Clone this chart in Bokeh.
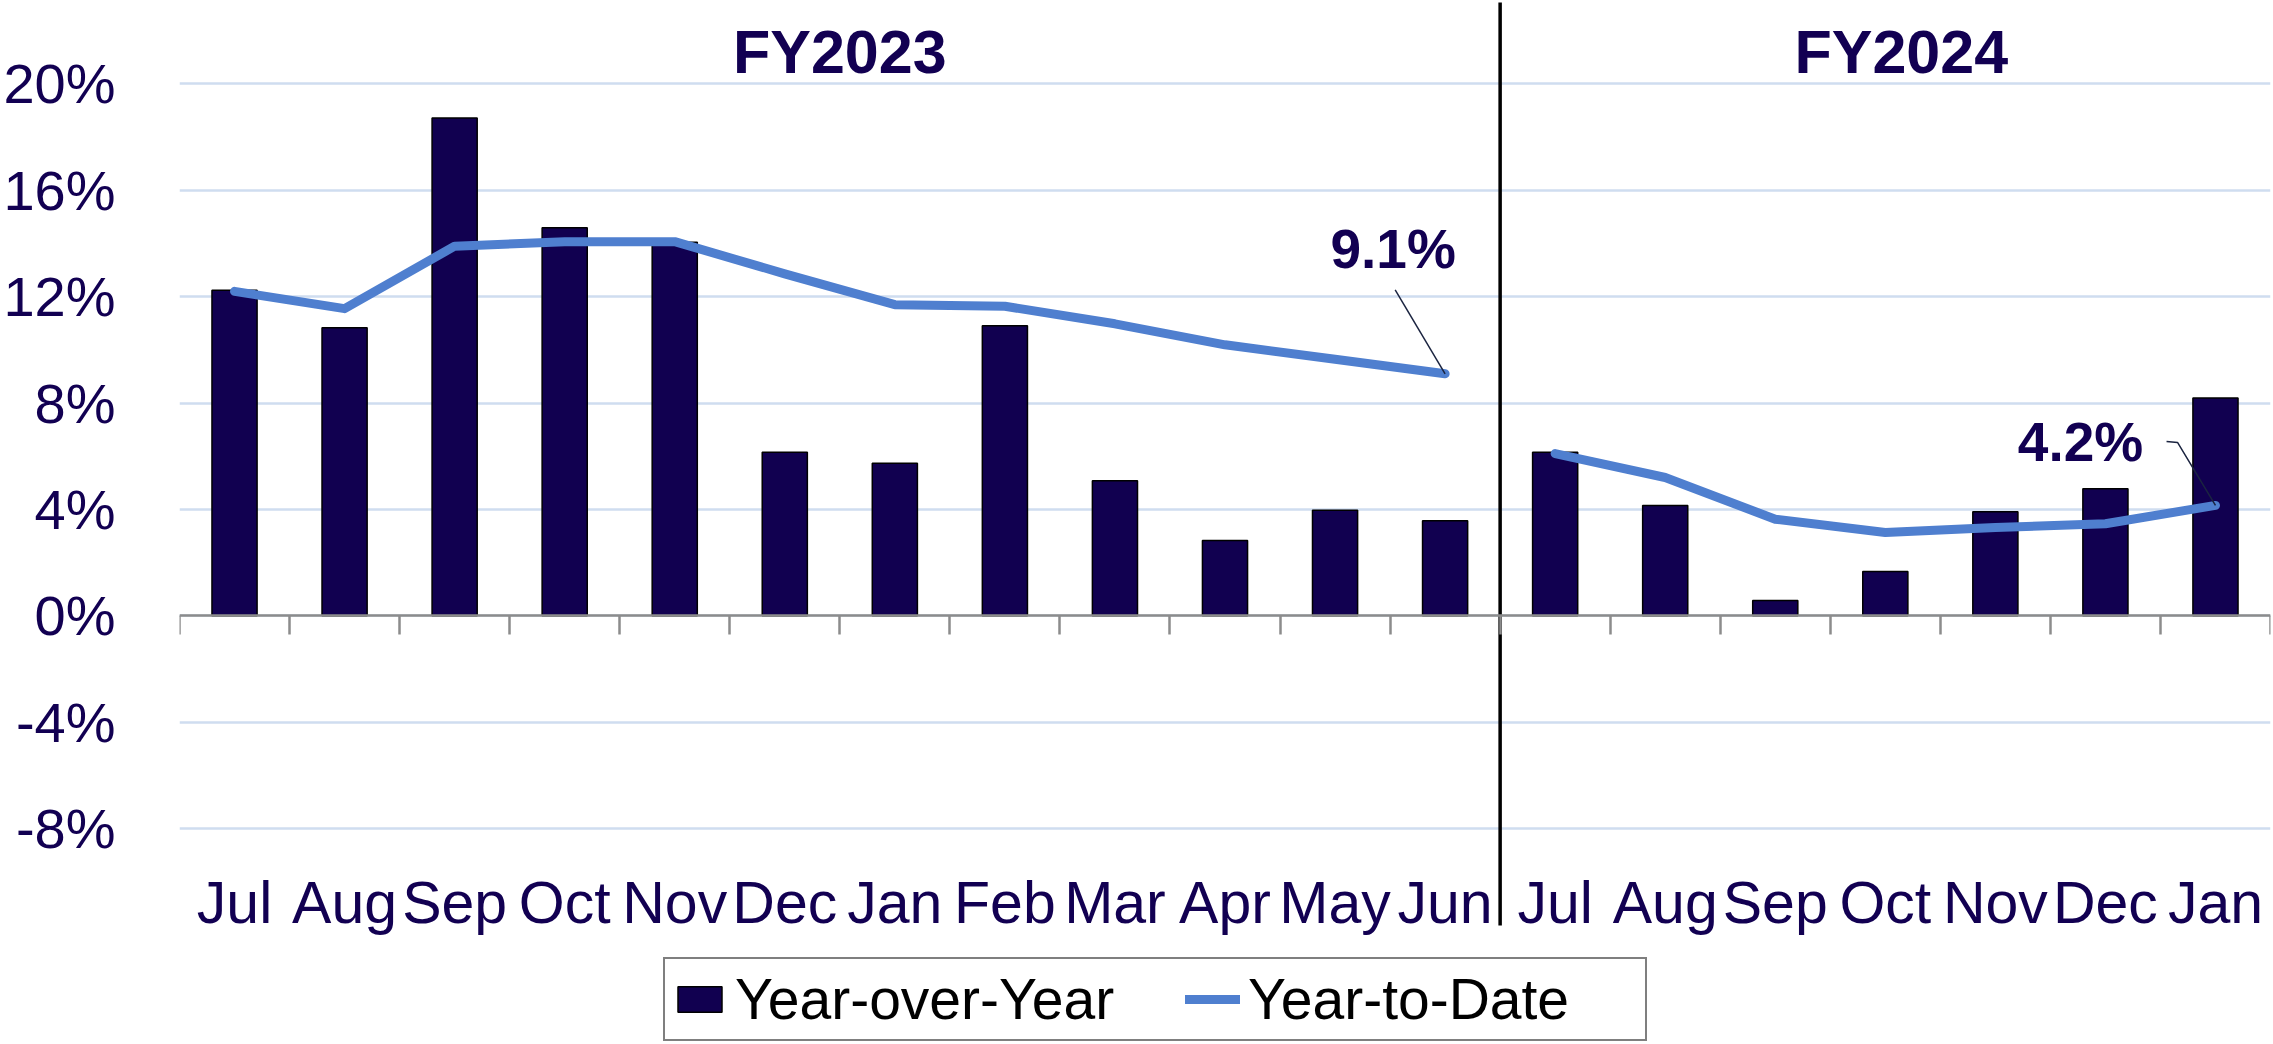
from bokeh.plotting import figure
from bokeh.models import (Range1d, LinearAxis, FixedTicker, PrintfTickFormatter,
                          Legend, LegendItem, ColumnDataSource)
from bokeh.core.properties import value
from bokeh.embed import file_html
from bokeh.resources import INLINE

# ---------------- data ----------------
fy_labels = ["FY2023", "FY2024"]
months_fy23 = ["Jul", "Aug", "Sep", "Oct", "Nov", "Dec", "Jan", "Feb", "Mar", "Apr", "May", "Jun"]
months_fy24 = ["Jul", "Aug", "Sep", "Oct", "Nov", "Dec", "Jan"]
yoy_fy23 = [12.24, 10.83, 18.72, 14.59, 14.05, 6.15, 5.74, 10.91, 5.08, 2.83, 3.97, 3.57]
yoy_fy24 = [6.15, 4.15, 0.57, 1.66, 3.91, 4.78, 8.19]
ytd_fy23 = [12.20, 11.55, 13.90, 14.07, 14.07, 12.86, 11.70, 11.64, 10.98, 10.19, 9.65, 9.10]
ytd_fy24 = [6.10, 5.20, 3.63, 3.13, 3.32, 3.46, 4.15]
y_ticks = [-8, -4, 0, 4, 8, 12, 16, 20]

# ---------------- style ----------------
NAVY = "#120052"
BAR = "#110050"
LINE = "#4F7FCF"
GRID = "#CFDDF0"
FONT = "Liberation Sans"

W, H = 2271, 1042
LEFT, RIGHT = 176, 1
Y_START, Y_END = -16.05, 23.14
px_per_y = H / (Y_END - Y_START)

n23, n24 = len(months_fy23), len(months_fy24)
n = n23 + n24
px_per_x = (W - LEFT - RIGHT) / n

x23 = [i + 0.5 for i in range(n23)]
x24 = [n23 + i + 0.5 for i in range(n24)]
months = months_fy23 + months_fy24
xc = x23 + x24

p = figure(width=W, height=H, output_backend="svg", toolbar_location=None,
           x_range=Range1d(0, n), y_range=Range1d(Y_START, Y_END),
           min_border_left=LEFT, min_border_right=RIGHT, min_border_top=0, min_border_bottom=0,
           x_axis_location=None, y_axis_location="left")
p.outline_line_color = None
p.background_fill_color = "white"
p.border_fill_color = "white"

# y axis
p.yaxis.ticker = FixedTicker(ticks=y_ticks)
p.yaxis.formatter = PrintfTickFormatter(format="%d%%")
p.yaxis.axis_line_color = None
p.yaxis.major_tick_line_color = None
p.yaxis.minor_tick_line_color = None
p.yaxis.major_label_standoff = 58
p.yaxis.major_label_text_font = FONT
p.yaxis.major_label_text_font_size = "56px"
p.yaxis.major_label_text_color = NAVY
p.ygrid.ticker = FixedTicker(ticks=y_ticks)
p.ygrid.grid_line_color = GRID
p.ygrid.grid_line_width = 2.5
p.xgrid.grid_line_color = None

# bars
src = ColumnDataSource(dict(x=xc, yoy=yoy_fy23 + yoy_fy24))
bars = p.vbar(x="x", top="yoy", bottom=0, width=0.41, source=src,
              fill_color=BAR, line_color="black", line_width=1.5)

# baseline axis at 0 with ticks at category boundaries
base_axis = LinearAxis(fixed_location=0,
                       ticker=FixedTicker(ticks=list(range(n + 1))),
                       major_label_overrides={i: "" for i in range(n + 1)})
base_axis.axis_line_color = "#8C8C8C"
base_axis.axis_line_width = 2.5
base_axis.major_tick_line_color = "#8C8C8C"
base_axis.major_tick_line_width = 2.5
base_axis.major_tick_in = 0
base_axis.major_tick_out = 19
base_axis.minor_tick_line_color = None
p.add_layout(base_axis, "below")

# month labels axis
label_loc = Y_END - 863 / px_per_y
month_axis = LinearAxis(fixed_location=label_loc,
                        ticker=FixedTicker(ticks=xc),
                        major_label_overrides={x: m for x, m in zip(xc, months)})
month_axis.axis_line_color = None
month_axis.major_tick_line_color = None
month_axis.minor_tick_line_color = None
month_axis.major_label_standoff = 0
month_axis.major_label_text_font = FONT
month_axis.major_label_text_font_size = "59px"
month_axis.major_label_text_color = NAVY
p.add_layout(month_axis, "below")

# YTD lines
l1 = p.line(x23, ytd_fy23, line_color=LINE, line_width=9, line_cap="round", line_join="round")
p.line(x24, ytd_fy24, line_color=LINE, line_width=9, line_cap="round", line_join="round")

# divider between fiscal years
div_bottom = Y_END - 925 / px_per_y
div_top = Y_END - 2 / px_per_y
p.segment(x0=[n23], y0=[div_top], x1=[n23], y1=[div_bottom], line_color="black", line_width=3.5)

# FY titles
p.text(x=[n23 / 2, n23 + n24 / 2], y=[Y_END, Y_END], text=fy_labels,
       x_offset=[0, 16], y_offset=51,
       text_font=value(FONT), text_font_style="bold", text_font_size="61px",
       text_color=NAVY, text_align="center", text_baseline="middle")

# end-of-year YTD callouts
ends_x = [x23[-1], x24[-1]]
ends_y = [ytd_fy23[-1], ytd_fy24[-1]]
p.text(x=ends_x, y=ends_y, text=[f"{v:.1f}%" for v in ends_y],
       x_offset=[-52, -135], y_offset=[-125, -63],
       text_font=value(FONT), text_font_style="bold", text_font_size="55px",
       text_color=NAVY, text_align="center", text_baseline="middle")
# leader lines
p.line([x23[-1] - 50 / px_per_x, x23[-1]], [ytd_fy23[-1] + 84 / px_per_y, ytd_fy23[-1]],
       line_color="#1B2440", line_width=1.5)
p.line([x24[-1] - 49 / px_per_x, x24[-1] - 38 / px_per_x, x24[-1]],
       [ytd_fy24[-1] + 64 / px_per_y, ytd_fy24[-1] + 63 / px_per_y, ytd_fy24[-1]],
       line_color="#1B2440", line_width=1.5)

legend = Legend(items=[LegendItem(label="Year-over-Year", renderers=[bars]),
                       LegendItem(label="Year-to-Date", renderers=[l1])],
                orientation="horizontal", location=(484, 1), margin=0,
                padding=7, spacing=60, label_standoff=8, label_width=390,
                glyph_width=55, glyph_height=32,
                label_text_font=FONT, label_text_font_size="57px", label_text_color="black",
                border_line_color="black", border_line_width=2,
                background_fill_color="white", background_fill_alpha=1)
p.add_layout(legend, "center")

open("out.html", "w").write(file_html(p, INLINE))
